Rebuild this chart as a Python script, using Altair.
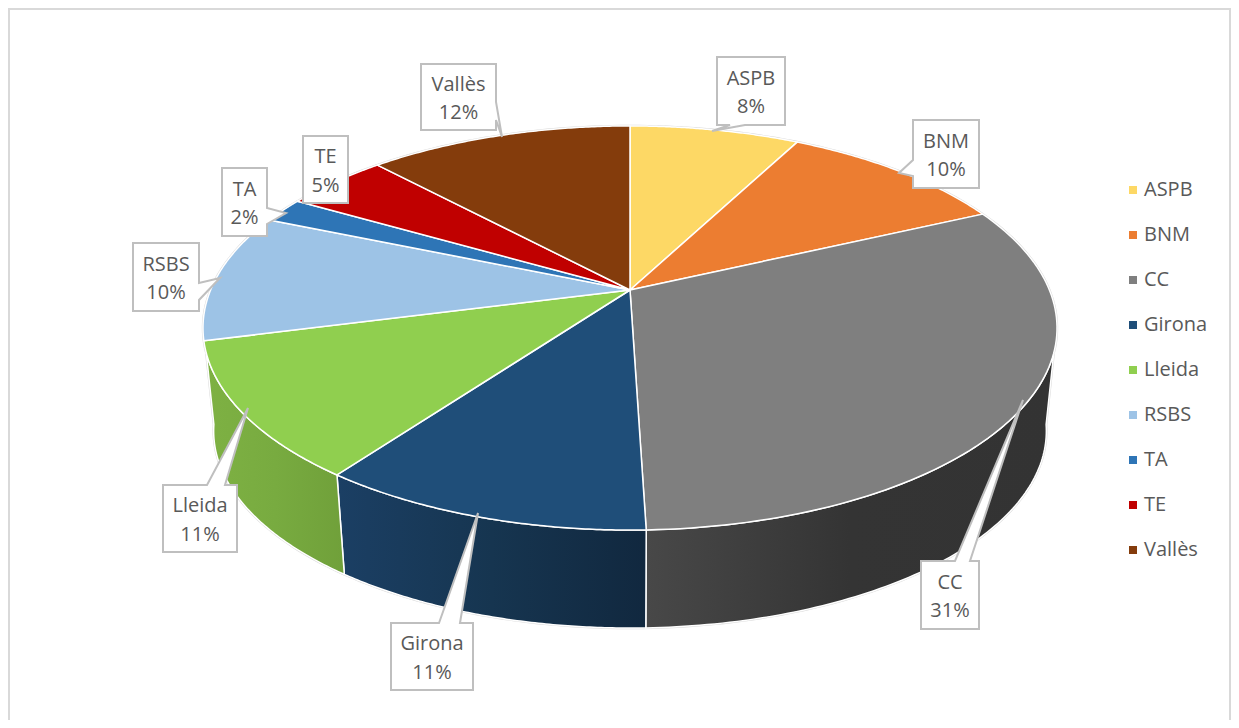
import math
import altair as alt

# ---- values
names = ["ASPB", "BNM", "CC", "Girona", "Lleida", "RSBS", "TA", "TE", "Vallès"]
shares = [7.7, 10.4, 31.4, 10.6, 10.9, 10.3, 2.0, 4.7, 12.0]
colors = ["#FDD865", "#EC7D31", "#7F7F7F", "#1F4E79", "#90CF4F", "#9DC3E6", "#2E75B6", "#C00000", "#843C0C"]

# ---- appearance of the tilted pie (page pixels)
CX, CY, RX, RY, PERSP = 630.0, 290.0, 419.4, 194.9, 0.188
DEPTH, SHRINK = 104.0, 0.975
FIRST_SIDE, LAST_SIDE = 107.7, 252.3   # where the wall's upper edge becomes visible
FIRST_BOT, LAST_BOT = 99.0, 261.0      # where the wall's lower edge becomes visible
PAGE = 8
FONT = "Open Sans"
FONT_SIZE = 20
LINE_HEIGHT = 28.7
TEXT_GREY = "#595959"
CALLOUT_GREY = "#BFBFBF"

# ---- wall gradients
wall_stops = {
    "CC": ["#484848", "#343434", "#333333"],
    "Girona": ["#1B3F64", "#163550", "#11283F"],
    "Lleida": ["#7EB143", "#78AB40", "#70A03A"],
}

# ---- callouts: box left, top, right, bottom, side with pointer, pointer base a/b, tip x/y
callouts = {
    "ASPB": (717, 57, 785, 125, "bottom", 730, 745, 712, 131),
    "BNM": (913, 120, 979, 188, "left", 160, 176, 899, 173),
    "CC": (921, 561, 979, 629, "top", 955, 970, 1023, 400),
    "Girona": (391, 623, 473, 690, "top", 439, 460, 478, 513),
    "Lleida": (163, 485, 237, 552, "top", 207, 225, 248, 408),
    "RSBS": (133, 243, 199, 311, "right", 283, 300, 220, 278),
    "TA": (222, 168, 267, 236, "right", 208, 224, 286, 213),
    "TE": (303, 136, 348, 203, None, 0, 0, 0, 0),
    "Vallès": (421, 64, 496, 130, "right", 102, 120, 502, 137),
}


def top_pt(theta):
    a = math.radians(theta)
    u, v = math.sin(a), math.cos(a)
    d = 1 + PERSP * v
    return (CX + RX * u / d - PAGE, CY - RY * v / d - PAGE)


def bot_pt(theta):
    x, y = top_pt(theta)
    return (CX - PAGE + SHRINK * (x - (CX - PAGE)), CY - PAGE + SHRINK * (y - (CY - PAGE)) + DEPTH)


def arc(fn, a, b, n=90):
    return [fn(a + (b - a) * i / n) for i in range(n + 1)]


def feature(ring, name=""):
    ring = [list(p) for p in ring]
    ring.append(ring[0])
    return {"type": "Feature", "properties": {"name": name},
            "geometry": {"type": "Polygon", "coordinates": [ring]}}


identity = dict(type="identity", scale=1, translate=[0, 0])

# slice angles
total = sum(shares)
bounds, acc = [], 0.0
for s in shares:
    bounds.append((acc / total * 360, (acc + s) / total * 360))
    acc += s
span = dict(zip(names, bounds))

centre = (CX - PAGE, CY - PAGE)
top_features = [feature([centre] + arc(top_pt, a, b), n) for n, (a, b) in zip(names, bounds)]

# silhouette rim, under everything
rim = alt.Chart(alt.Data(values=[
    feature(arc(top_pt, FIRST_SIDE, LAST_SIDE, 120) + arc(bot_pt, LAST_BOT, FIRST_BOT, 120)),
    feature(arc(top_pt, 0, 360, 240)),
])).mark_geoshape(fill="#D9D9D9", stroke="#D9D9D9", strokeWidth=2.4).project(**identity)

# side walls
walls = []
for n in ["CC", "Girona", "Lleida"]:
    a, b = span[n]
    a, b = max(a, FIRST_SIDE), min(b, LAST_SIDE)
    a_bot = FIRST_BOT if a == FIRST_SIDE else a
    b_bot = LAST_BOT if b == LAST_SIDE else b
    ring = arc(top_pt, a, b) + arc(bot_pt, b_bot, a_bot)
    c = wall_stops[n]
    grad = alt.LinearGradient(
        gradient="linear", x1=0, x2=1, y1=0, y2=0,
        stops=[alt.GradientStop(color=c[0], offset=0),
               alt.GradientStop(color=c[1], offset=0.5),
               alt.GradientStop(color=c[2], offset=1)],
    )
    walls.append(
        alt.Chart(alt.Data(values=[feature(ring, n)]))
        .mark_geoshape(fill=grad, stroke="white", strokeWidth=1.5)
        .project(**identity)
    )

# top face, carries the legend
top = alt.Chart(alt.Data(values=top_features)).mark_geoshape(
    stroke="white", strokeWidth=1.5, strokeJoin="round"
).encode(
    color=alt.Color(
        "properties.name:N",
        scale=alt.Scale(domain=names, range=colors),
        sort=names,
        legend=alt.Legend(
            title=None, orient="none", legendX=1115, legendY=172, symbolType="square",
            symbolSize=64, symbolStrokeWidth=0, labelFont=FONT, labelFontSize=FONT_SIZE,
            labelColor=TEXT_GREY, labelOffset=1, rowPadding=25, padding=0, labelLimit=200,
        ),
    )
).project(**identity)


# callout shapes
def callout_ring(c):
    x0, y0, x1, y1, side, a, b, tx, ty = c
    pts = [(x0, y0)]
    if side == "top":
        pts += [(a, y0), (tx, ty), (b, y0)]
    pts.append((x1, y0))
    if side == "right":
        pts += [(x1, a), (tx, ty), (x1, b)]
    pts.append((x1, y1))
    if side == "bottom":
        pts += [(b, y1), (tx, ty), (a, y1)]
    pts.append((x0, y1))
    if side == "left":
        pts += [(x0, b), (tx, ty), (x0, a)]
    return [(px - PAGE, py - PAGE) for px, py in pts]


boxes = alt.Chart(alt.Data(values=[feature(callout_ring(callouts[n]), n) for n in names])).mark_geoshape(
    fill="white", stroke=CALLOUT_GREY, strokeWidth=2, strokeJoin="miter"
).project(**identity)

label_rows = []
for n, s in zip(names, shares):
    c = callouts[n]
    label_rows.append({
        "label": f"{n}\n{round(s)}%",
        "x": (c[0] + c[2]) / 2 - PAGE,
        "y": (c[1] + c[3]) / 2 - PAGE + 2,
    })
labels = alt.Chart(alt.Data(values=label_rows)).mark_text(
    font=FONT, fontSize=FONT_SIZE, color=TEXT_GREY, lineBreak="\n", lineHeight=LINE_HEIGHT,
    align="center", baseline="middle", dy=-LINE_HEIGHT / 2,
).encode(
    x=alt.X("x:Q", scale=None, axis=None),
    y=alt.Y("y:Q", scale=None, axis=None),
    text="label:N",
)

frame = alt.Chart(alt.Data(values=[{"x": 1, "x2": 1222, "y": 1, "y2": 740}])).mark_rect(
    fill="white", stroke="#D9D9D9", strokeWidth=2
).encode(
    x=alt.X("x:Q", scale=None, axis=None), x2="x2:Q",
    y=alt.Y("y:Q", scale=None, axis=None), y2="y2:Q",
)

chart = alt.layer(frame, rim, *walls, top, boxes, labels).properties(
    width=1223, height=712, padding=0,
    autosize=alt.AutoSizeParams(type="none"),
    background="white",
).configure_view(stroke=None)

chart.save("out.html", embed_options={"renderer": "svg", "actions": False})
